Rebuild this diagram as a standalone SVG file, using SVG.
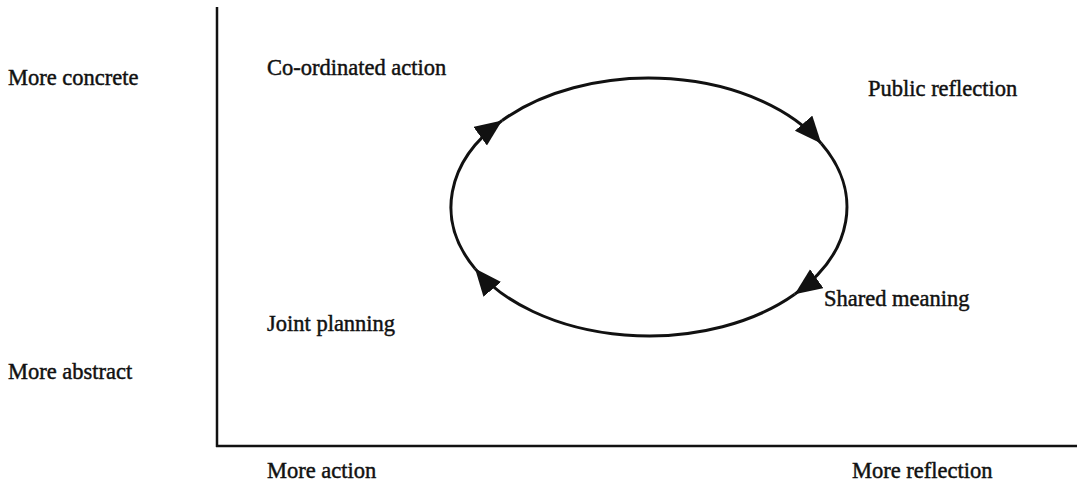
<svg xmlns="http://www.w3.org/2000/svg" width="1085" height="486" viewBox="0 0 1085 486">
  <style>
    .lbl { font-family: "Liberation Serif", "Times New Roman", serif; font-size: 22.5px; fill: #111; stroke: #111; stroke-width: 0.45; }
    .axis { stroke: #111; stroke-width: 2.5; fill: none; }
    .cycle { stroke: #111; stroke-width: 3; fill: none; marker-end: url(#head); }
  </style>
  <defs>
    <marker id="head" markerUnits="userSpaceOnUse" markerWidth="30" markerHeight="24" refX="27" refY="11.5" orient="auto">
      <path d="M0,0 L27,11.5 L0,23 Z" fill="#111"/>
    </marker>
  </defs>

  <rect width="1085" height="486" fill="#fff"/>

  <!-- axes -->
  <g id="axes">
    <line class="axis" x1="217" y1="7" x2="217" y2="447"/>
    <line class="axis" x1="216" y1="446" x2="1077" y2="446"/>
  </g>

  <!-- axis labels -->
  <g id="more-concrete"><text class="lbl" x="8" y="85">More concrete</text></g>
  <g id="more-abstract"><text class="lbl" x="8" y="379">More abstract</text></g>
  <g id="more-action"><text class="lbl" x="267" y="478">More action</text></g>
  <g id="more-reflection"><text class="lbl" x="852" y="478">More reflection</text></g>

  <!-- stages of the cycle -->
  <g id="coordinated-action"><text class="lbl" x="267" y="75">Co-ordinated action</text></g>
  <g id="public-reflection"><text class="lbl" x="868" y="96">Public reflection</text></g>
  <g id="shared-meaning"><text class="lbl" x="824" y="306">Shared meaning</text></g>
  <g id="joint-planning"><text class="lbl" x="267" y="331">Joint planning</text></g>

  <!-- clockwise cycle: four arcs of one ellipse, each ending in an arrowhead -->
  <g id="connectors">
    <path class="cycle" d="M475,268.6 A198,129 0 0 1 502.1,120.5"/>
    <path class="cycle" d="M502.1,120.5 A198,129 0 0 1 821.3,143.5"/>
    <path class="cycle" d="M821.3,143.5 A198,129 0 0 1 794.7,294.3"/>
    <path class="cycle" d="M794.7,294.3 A198,129 0 0 1 475,268.6"/>
  </g>
</svg>
